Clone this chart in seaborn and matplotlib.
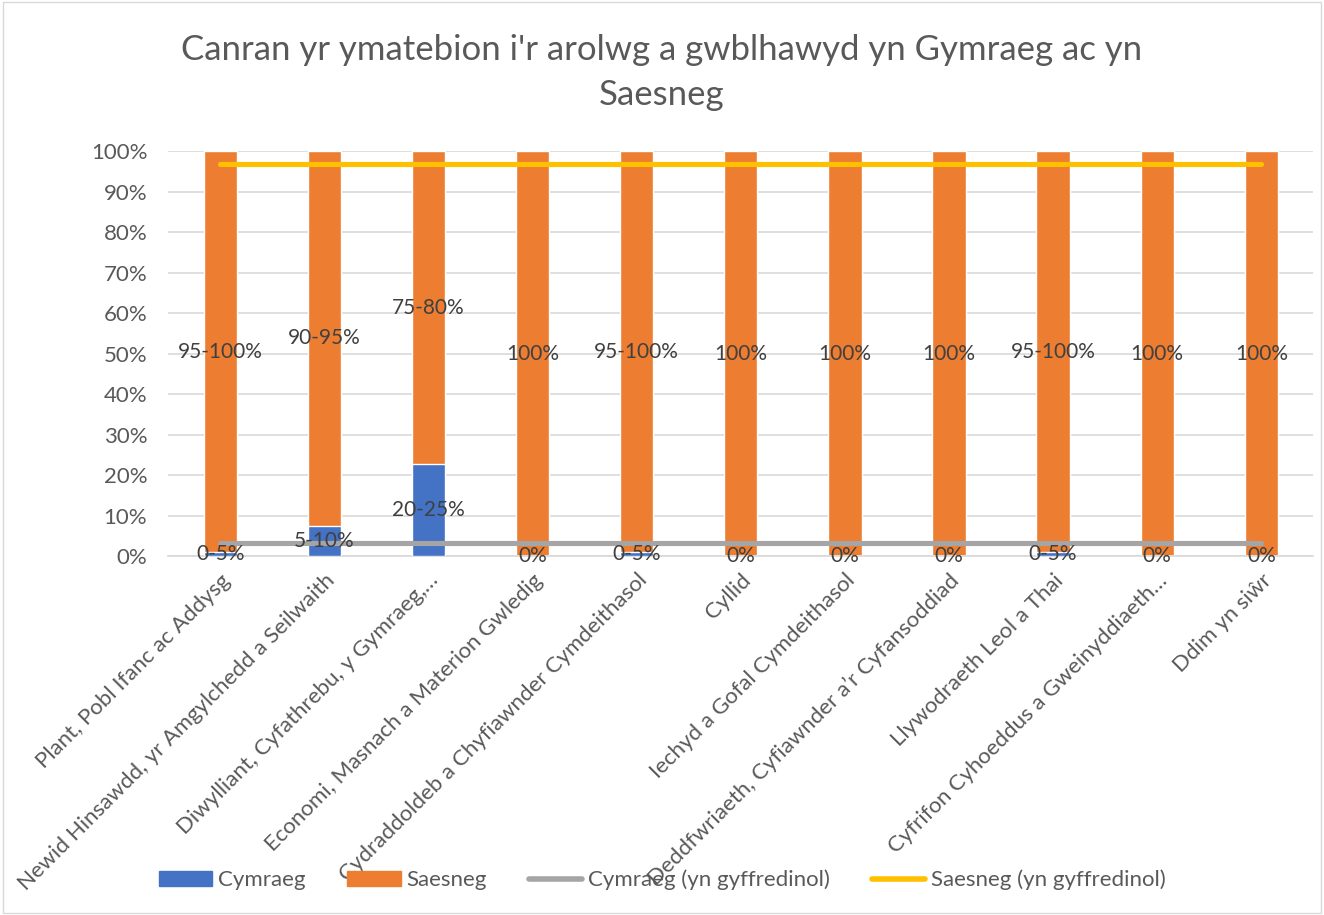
import numpy as np
import pandas as pd
import matplotlib
matplotlib.use("Agg")
from matplotlib import pyplot as plt
from matplotlib.patches import Rectangle
import seaborn as sns

cats = ['Plant, Pobl Ifanc ac Addysg',
        'Newid Hinsawdd, yr Amgylchedd a Seilwaith',
        'Diwylliant, Cyfathrebu, y Gymraeg,…',
        'Economi, Masnach a Materion Gwledig',
        'Cydraddoldeb a Chyfiawnder Cymdeithasol',
        'Cyllid',
        'Iechyd a Gofal Cymdeithasol',
        'Deddfwriaeth, Cyfiawnder a’r Cyfansoddiad',
        'Llywodraeth Leol a Thai',
        'Cyfrifon Cyhoeddus a Gweinyddiaeth…',
        'Ddim yn siŵr']
cymraeg = [1.0, 7.5, 22.7, 0, 1.0, 0, 0, 0, 1.0, 0, 0]
saesneg = [100 - v for v in cymraeg]
cym_labels = ['0-5%', '5-10%', '20-25%', '0%', '0-5%', '0%', '0%', '0%', '0-5%', '0%', '0%']
saes_labels = ['95-100%', '90-95%', '75-80%', '100%', '95-100%', '100%', '100%', '100%', '95-100%', '100%', '100%']
cym_overall = 3.2
saes_overall = 96.8

c_blue = '#4472C4'
c_orange = '#ED7D31'
c_grey = '#A5A5A5'
c_yellow = '#FFC000'
txt = '#595959'

sns.set_theme(style='white')
plt.rcParams['font.family'] = ['Lato', 'DejaVu Sans']

df = pd.DataFrame({'cat': cats, 'cym': cymraeg, 'saes': saesneg})
df['total'] = df.cym + df.saes

fig = plt.figure(figsize=(13.24, 9.15), dpi=100)
ax = fig.add_axes([0.127, 0.392, 0.865, 0.443])

# stacked: full bar in orange, then blue part on top from zero
sns.barplot(data=df, x='cat', y='total', color=c_orange, width=0.32,
            saturation=1, ax=ax, zorder=2)
sns.barplot(data=df, x='cat', y='cym', color=c_blue, width=0.32,
            saturation=1, ax=ax, zorder=3)

n = len(cats)
xs = np.arange(n)
sns.lineplot(x=xs, y=[cym_overall] * n, color=c_grey, linewidth=3.7, ax=ax, zorder=4)
sns.lineplot(x=xs, y=[saes_overall] * n, color=c_yellow, linewidth=3.7, ax=ax, zorder=4)

# data labels at segment centres
for i in range(n):
    ax.text(i, cymraeg[i] / 2, cym_labels[i], ha='center', va='center',
            fontsize=15, color='#404040', zorder=5)
    ax.text(i, cymraeg[i] + saesneg[i] / 2, saes_labels[i], ha='center', va='center',
            fontsize=15, color='#404040', zorder=5)

ax.set_xlim(-0.5, n - 0.5)
ax.set_ylim(0, 100)
ax.set_yticks(np.arange(0, 101, 10))
ax.set_yticklabels([f'{v}%' for v in range(0, 101, 10)], fontsize=16, color=txt)
ax.set_xticks(xs)
ax.set_xticklabels(cats, rotation=45, ha='right', va='top', rotation_mode='anchor',
                   fontsize=16, color=txt)
ax.tick_params(axis='x', length=0, pad=10)
ax.tick_params(axis='y', length=0, pad=15)
ax.set_xlabel('')
ax.set_ylabel('')
ax.yaxis.grid(True, color='#D9D9D9', linewidth=1.2, zorder=0)
ax.set_axisbelow(True)
for s in ['top', 'right', 'left']:
    ax.spines[s].set_visible(False)
ax.spines['bottom'].set_color('#D9D9D9')

fig.text(0.5, 1 - 50 / 915, "Canran yr ymatebion i'r arolwg a gwblhawyd yn Gymraeg ac yn",
         ha='center', va='center', fontsize=25, color=txt)
fig.text(0.5, 1 - 95 / 915, 'Saesneg', ha='center', va='center', fontsize=25, color=txt)

handles = [Rectangle((0, 0), 1, 1, color=c_blue),
           Rectangle((0, 0), 1, 1, color=c_orange),
           plt.Line2D([], [], color=c_grey, linewidth=4),
           plt.Line2D([], [], color=c_yellow, linewidth=4)]
fig.legend(handles, ['Cymraeg', 'Saesneg', 'Cymraeg (yn gyffredinol)', 'Saesneg (yn gyffredinol)'],
           loc='center', bbox_to_anchor=(0.5, 1 - 880 / 915), ncol=4, frameon=False,
           fontsize=16, labelcolor=txt, handlelength=2.4, handletextpad=0.25,
           columnspacing=1.9)

fig.patches.append(Rectangle((0.002, 0.002), 0.996, 0.996, transform=fig.transFigure,
                             fill=False, edgecolor='#D9D9D9', linewidth=1))

fig.savefig('out.png', dpi=100)
